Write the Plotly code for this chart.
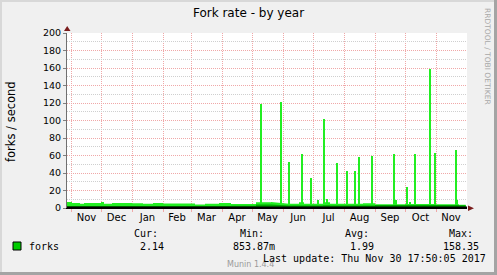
import plotly.graph_objects as go

# ---------------- data ----------------
seg_start = ['2016-10-28', '2016-11-02', '2016-11-10', '2016-11-14', '2016-12-01', '2016-12-04',
             '2016-12-12', '2017-01-01', '2017-01-12', '2017-01-22', '2017-02-01', '2017-03-05',
             '2017-03-15', '2017-03-29', '2017-04-10', '2017-05-05', '2017-05-20', '2017-06-01',
             '2017-06-07', '2017-06-17', '2017-06-22', '2017-07-11', '2017-07-18', '2017-08-01',
             '2017-08-20', '2017-09-01', '2017-10-01', '2017-11-01', '2017-11-24', '2017-11-30 18:00']
base_hi = [7.0, 5.7, 5.0, 5.7, 7.0, 5.0, 5.7, 5.5, 5.0, 5.7, 5.2, 4.0, 5.0, 5.7, 4.5, 6.5, 7.0, None,
           4.9, 6.5, 4.9, 6.5, 5.0, 4.8, 5.5, 4.2, 4.5, 4.2, 3.8, 3.8]
base_lo = [2.3, 2.3, 2.3, 2.3, 2.3, 2.3, 2.3, 2.3, 2.3, 2.3, 2.3, 2.3, 2.3, 2.3, 2.5, 4.0, 4.0, None,
           3.0, 3.0, 3.0, 3.2, 3.0, 3.0, 3.0, 3.3, 3.5, 3.5, 3.2, 3.2]

spike_dates = ['2017-05-10', '2017-05-30', '2017-06-07', '2017-06-20', '2017-06-29', '2017-07-06',
               '2017-07-12', '2017-07-15', '2017-07-25', '2017-08-04', '2017-08-12', '2017-08-16',
               '2017-08-29', '2017-09-20', '2017-09-22', '2017-10-03', '2017-10-06', '2017-10-11',
               '2017-10-26', '2017-10-31', '2017-11-21', '2017-11-22']
spike_vals = [119, 121, 53, 62, 34, 9, 102, 10, 52, 42, 42, 58, 60, 62, 9.5, 24, 7, 62, 158.35, 63, 66, 9.5]

month_starts = ['2016-11-01', '2016-12-01', '2017-01-01', '2017-02-01', '2017-03-01', '2017-04-01',
                '2017-05-01', '2017-06-01', '2017-07-01', '2017-08-01', '2017-09-01', '2017-10-01',
                '2017-11-01']
month_mids = ['2016-11-16 12:00', '2016-12-16 12:00', '2017-01-16 12:00', '2017-02-15', '2017-03-16 12:00',
              '2017-04-16', '2017-05-16 12:00', '2017-06-16', '2017-07-16 12:00', '2017-08-16 12:00',
              '2017-09-16', '2017-10-16 12:00', '2017-11-16']
month_labels = ['Nov', 'Dec', 'Jan', 'Feb', 'Mar', 'Apr', 'May', 'Jun', 'Jul', 'Aug', 'Sep', 'Oct', 'Nov']

y_ticks = [0, 20, 40, 60, 80, 100, 120, 140, 160, 180, 200]

legend_heads = ['Cur:', 'Min:', 'Avg:', 'Max:']
legend_vals = ['2.14', '853.87m', '1.99', '158.35']

# ---------------- layout helpers ----------------
W, H = 497, 275
L, R, T, B = 67, 30, 33, 67
PW, PH = W - L - R, H - T - B


def fx(px):
    return (px - L) / PW


def fy(py):
    return (H - B - py) / PH


BRIGHT = '#22ee22'
DARK = '#00a800'
SANS = 'DejaVu Sans'
MONO = 'DejaVu Sans Mono'

fig = go.Figure()

fig.add_trace(go.Bar(x=[d + ' 12:00' for d in spike_dates], y=spike_vals, width=86400000 * 1.3,
                     marker=dict(color=BRIGHT, line=dict(width=0)), showlegend=False))
fig.add_trace(go.Scatter(x=seg_start, y=base_hi, mode='lines', line_shape='hv', line=dict(width=0),
                         fill='tozeroy', fillcolor=BRIGHT, connectgaps=False, showlegend=False))
fig.add_trace(go.Scatter(x=seg_start, y=base_lo, mode='lines', line_shape='hv', line=dict(width=0),
                         fill='tozeroy', fillcolor=DARK, connectgaps=False, showlegend=False))

GRID_RED = '#f0a8a8'
GRID_GRAY = '#cfcfcf'

fig.update_layout(
    width=W, height=H, margin=dict(l=L, r=R, t=T, b=B, pad=0),
    paper_bgcolor='#f0f0f0', plot_bgcolor='white', bargap=0, showlegend=False,
    title=dict(text='Fork rate - by year', x=0.5, xanchor='center', xref='container',
               y=1 - 13 / H, yanchor='middle', yref='container',
               font=dict(family=SANS, size=12, color='#000')),
    xaxis=dict(type='date', range=['2016-10-28', '2017-12-02'], tickmode='array',
               tickvals=month_mids, ticktext=month_labels, ticks='', showgrid=False,
               tickfont=dict(family=SANS, size=10, color='#000'),
               showline=True, linecolor='#000', linewidth=1, zeroline=False,
               minor=dict(tickmode='array', tickvals=month_starts, showgrid=True,
                          gridcolor=GRID_RED, griddash='1px,1px', gridwidth=1,
                          ticks='outside', ticklen=3, tickcolor=GRID_RED)),
    yaxis=dict(range=[0, 200], tickmode='array', tickvals=y_ticks, ticks='outside', ticklen=3,
               tickcolor='#808080', showgrid=True, gridcolor=GRID_RED, griddash='1px,1px',
               tickfont=dict(family=SANS, size=9.5, color='#000'),
               showline=True, linecolor='#707070', linewidth=1, zeroline=False,
               minor=dict(dtick=10, tick0=0, showgrid=True, gridcolor=GRID_GRAY,
                          griddash='1px,1px', gridwidth=1)),
)

shapes = []
# baseline black line
shapes.append(dict(type='line', xref='paper', yref='paper', x0=0, x1=1, y0=fy(207.5), y1=fy(207.5),
                   line=dict(color='#000', width=2), layer='above'))
# arrows
ARROW = '#7a1c1c'
shapes.append(dict(type='path', xref='paper', yref='paper', fillcolor=ARROW, line=dict(width=0),
                   path=f'M {fx(64)} {fy(31)} L {fx(70.5)} {fy(31)} L {fx(67.2)} {fy(26)} Z'))
shapes.append(dict(type='path', xref='paper', yref='paper', fillcolor=ARROW, line=dict(width=0),
                   path=f'M {fx(468)} {fy(205.5)} L {fx(468)} {fy(211)} L {fx(474)} {fy(208.2)} Z'))
# frame
shapes.append(dict(type='rect', xref='paper', yref='paper', x0=fx(0), x1=fx(W), y0=fy(0), y1=fy(2),
                   fillcolor='#d8d8d8', line=dict(width=0)))
shapes.append(dict(type='rect', xref='paper', yref='paper', x0=fx(0), x1=fx(2), y0=fy(0), y1=fy(H),
                   fillcolor='#d8d8d8', line=dict(width=0)))
shapes.append(dict(type='rect', xref='paper', yref='paper', x0=fx(W - 3), x1=fx(W), y0=fy(0), y1=fy(H),
                   fillcolor='#a4a4a4', line=dict(width=0)))
shapes.append(dict(type='rect', xref='paper', yref='paper', x0=fx(0), x1=fx(W), y0=fy(H - 3), y1=fy(H),
                   fillcolor='#a4a4a4', line=dict(width=0)))
# legend swatch
shapes.append(dict(type='rect', xref='paper', yref='paper', x0=fx(13), x1=fx(21), y0=fy(250), y1=fy(242),
                   fillcolor='#00cc00', line=dict(color='#000', width=1)))
fig.update_layout(shapes=shapes)

ann = []


def txt(s, px, py, size=10, family=MONO, color='#000', xanchor='left', angle=0):
    ann.append(dict(text=s, x=fx(px), y=fy(py), xref='paper', yref='paper', showarrow=False,
                    xanchor=xanchor, yanchor='middle', textangle=angle,
                    font=dict(family=family, size=size, color=color)))


txt('forks / second', 11, 121, size=11.5, family=SANS, xanchor='center', angle=-90)
txt('RRDTOOL / TOBI OETIKER', 488, 56, size=7.5, family=SANS, color='#a8a8a8', xanchor='center', angle=90)
txt('Munin 1.4.4', 225, 264.5, size=8, family=SANS, color='#9a9a9a')
for s, px in zip(legend_heads, [132, 238, 343, 447]):
    txt(s, px, 233)
txt('forks', 27, 246)
for s, px in zip(legend_vals, [138, 231, 348, 441]):
    txt(s, px, 246)
txt('Last update: Thu Nov 30 17:50:05 2017', 261, 258)
fig.update_layout(annotations=ann)

fig.write_html('out.html')
